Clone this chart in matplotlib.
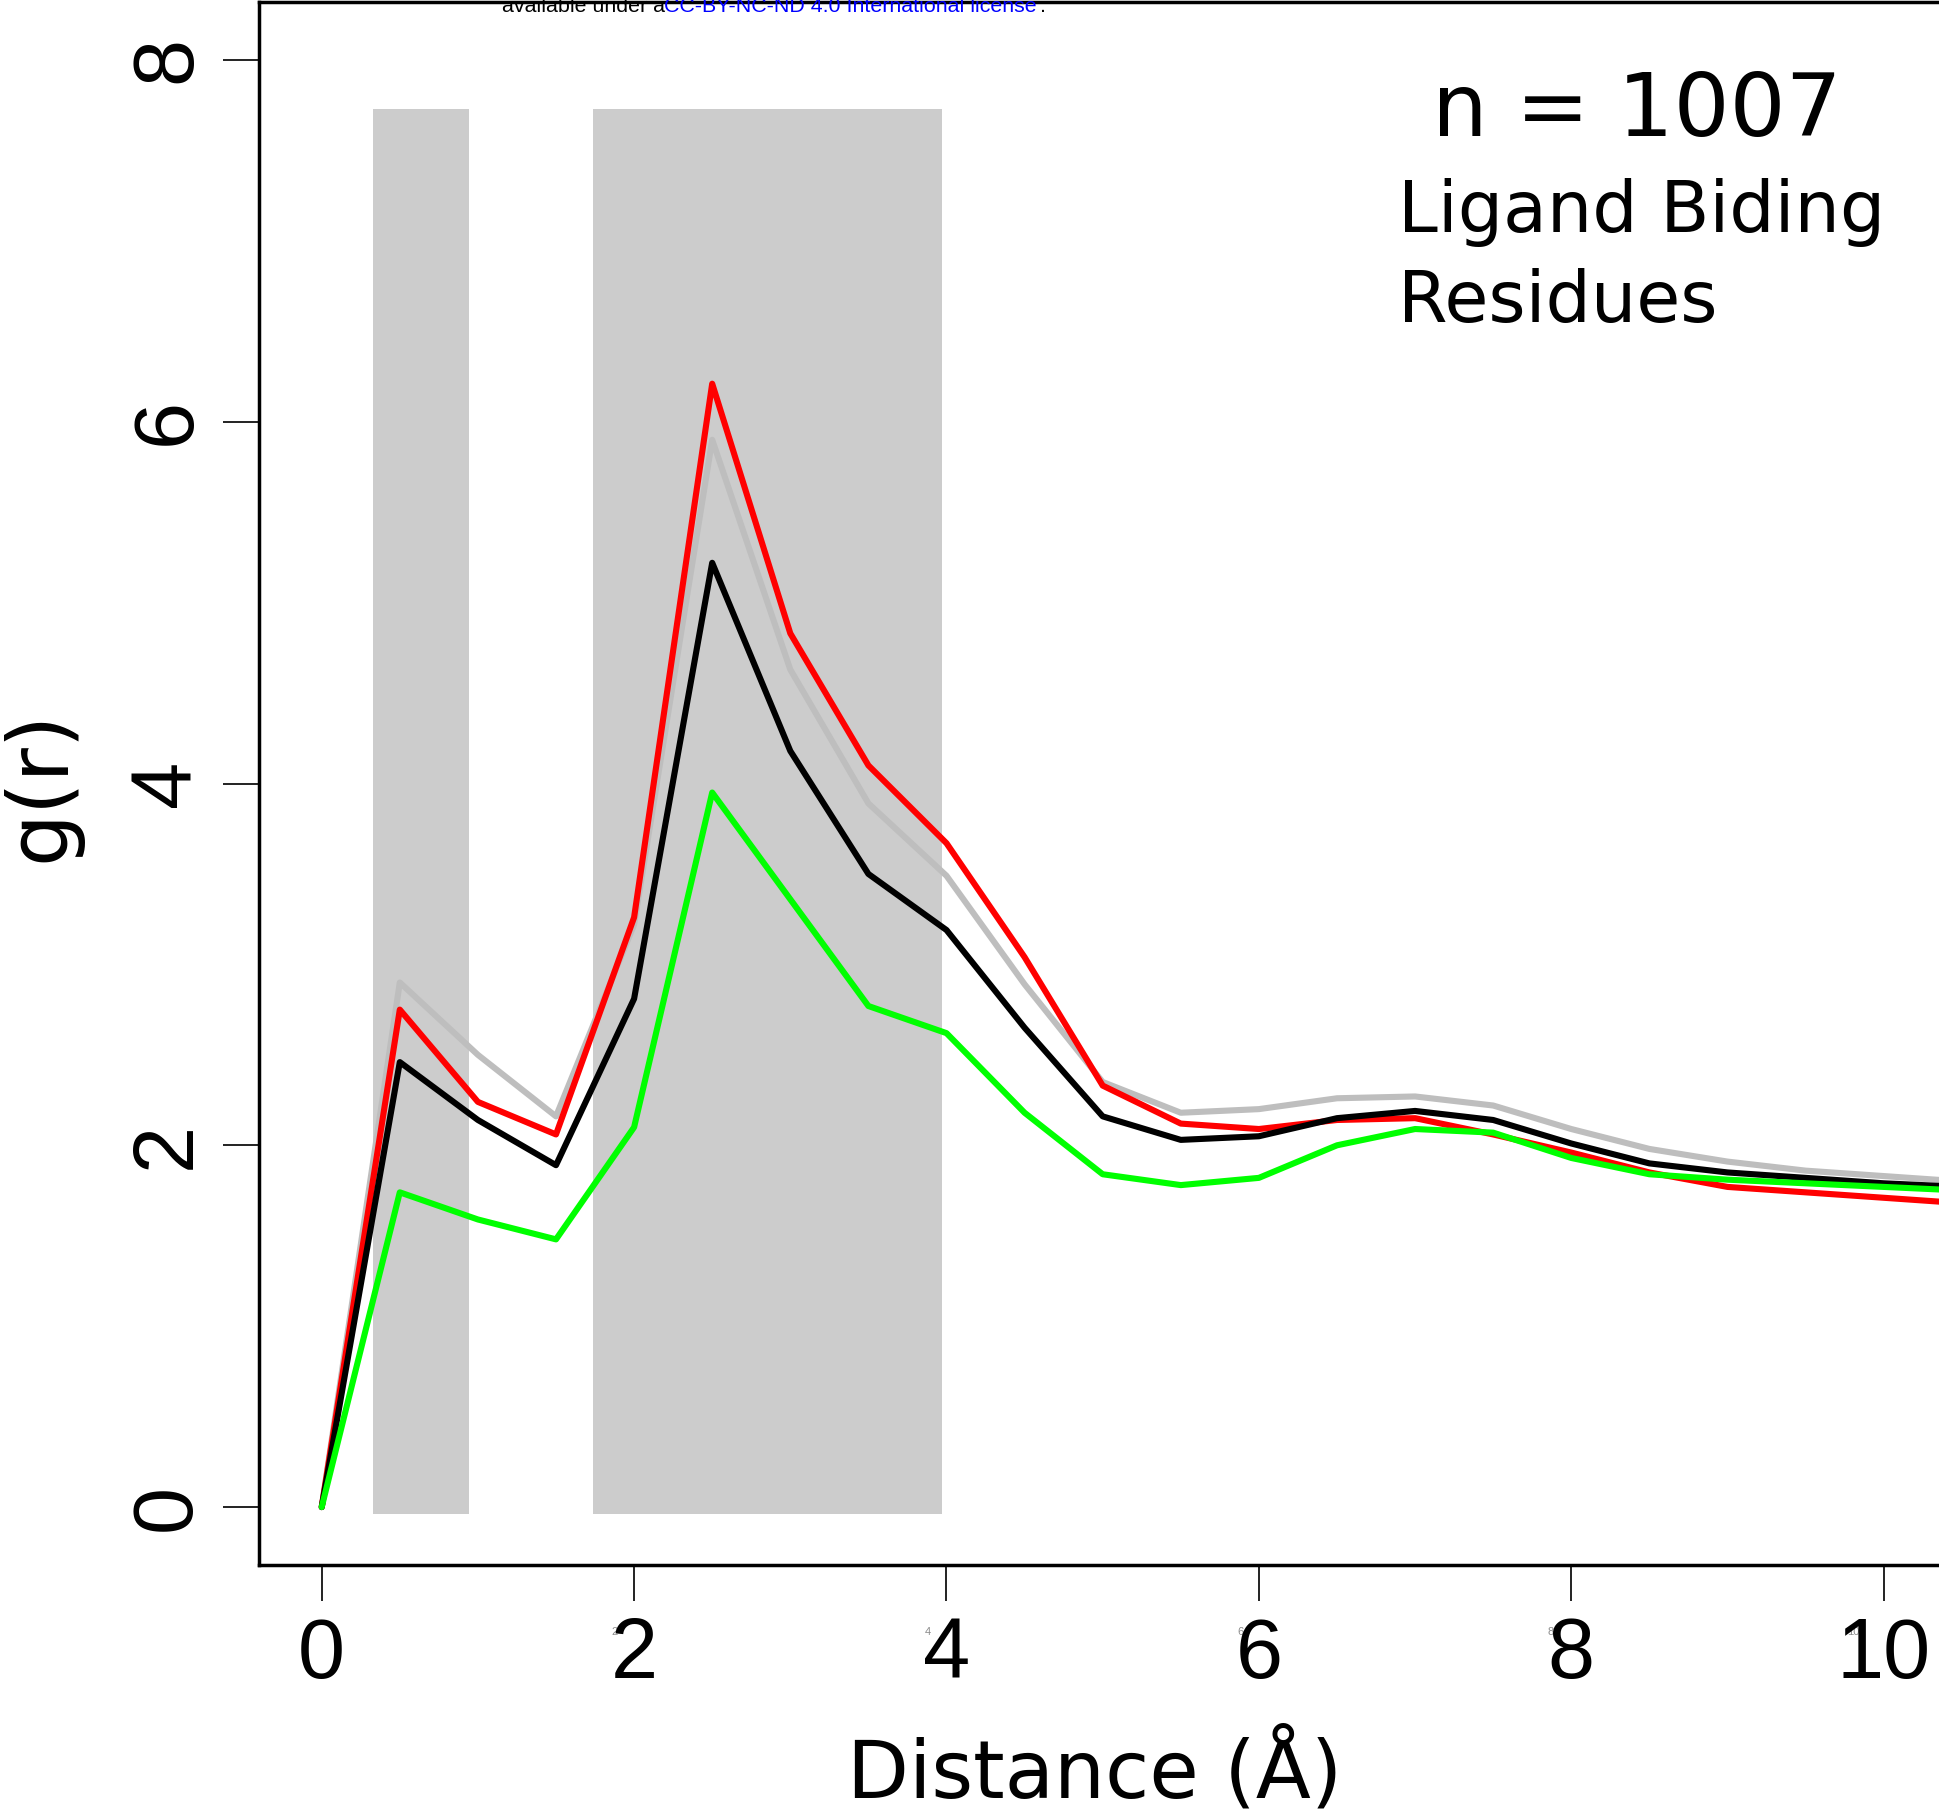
import matplotlib
matplotlib.use("Agg")
import matplotlib.pyplot as plt

# ---- data ----
distance = [0.0, 0.5, 1.0, 1.5, 2.0, 2.5, 3.0, 3.5, 4.0, 4.5, 5.0,
            5.5, 6.0, 6.5, 7.0, 7.5, 8.0, 8.5, 9.0, 9.5, 10.0, 10.5]
g_gray = [0, 2.90, 2.50, 2.16, 3.22, 5.90, 4.63, 3.89, 3.49, 2.89, 2.35,
          2.18, 2.20, 2.26, 2.27, 2.22, 2.09, 1.98, 1.91, 1.86, 1.83, 1.80]
g_red = [0, 2.75, 2.24, 2.06, 3.26, 6.21, 4.83, 4.10, 3.67, 3.04, 2.33,
         2.12, 2.09, 2.14, 2.15, 2.06, 1.96, 1.85, 1.77, 1.74, 1.71, 1.68]
g_black = [0, 2.46, 2.14, 1.89, 2.81, 5.22, 4.18, 3.50, 3.19, 2.65, 2.16,
           2.03, 2.05, 2.15, 2.19, 2.14, 2.01, 1.90, 1.85, 1.82, 1.79, 1.77]
g_green = [0, 1.74, 1.59, 1.48, 2.10, 3.95, 3.36, 2.77, 2.62, 2.18, 1.84,
           1.78, 1.82, 2.00, 2.09, 2.07, 1.93, 1.84, 1.81, 1.79, 1.77, 1.75]

shade_start = [0.33, 1.74]
shade_end = [0.94, 3.97]
shade_bottom = -0.04
shade_top = 7.73

x_ticks = [0, 2, 4, 6, 8, 10]
y_ticks = [0, 2, 4, 6, 8]
x_ticklabels = ["0", "2", "4", "6", "8", "10"]
y_ticklabels = ["0", "2", "4", "6", "8"]

W, H = 1940, 1812
fig = plt.figure(figsize=(W / 100, H / 100), dpi=100)
ax = fig.add_axes([258.6 / W, 247 / H, (1962.4 - 258.6) / W, 1563 / H])
ax.set_xlim(-0.404, 10.504)
ax.set_ylim(-0.32, 8.32)

# shaded regions
for x0, x1 in zip(shade_start, shade_end):
    ax.fill_between([x0, x1], shade_bottom, shade_top, color="#cccccc",
                    linewidth=0, zorder=1)

lw = 4.4
ax.plot(distance, g_gray, color="#bebebe", lw=lw, zorder=2,
        solid_joinstyle="round", solid_capstyle="round")
ax.plot(distance, g_red, color="#ff0000", lw=lw, zorder=3,
        solid_joinstyle="round", solid_capstyle="round")
ax.plot(distance, g_black, color="#000000", lw=lw, zorder=4,
        solid_joinstyle="round", solid_capstyle="round")
ax.plot(distance, g_green, color="#00ff00", lw=lw, zorder=5,
        solid_joinstyle="round", solid_capstyle="round")

for s in ax.spines.values():
    s.set_linewidth(2.5)
    s.set_color("black")

tick_font = dict(family="Liberation Sans", size=61)
ax.set_xticks(x_ticks)
ax.set_xticklabels(x_ticklabels, fontdict=tick_font)
ax.set_yticks(y_ticks)
ax.set_yticklabels(y_ticklabels, fontdict=tick_font, rotation=90,
                   rotation_mode="anchor", ha="center", va="baseline")
ax.tick_params(axis="both", direction="out", length=25.6, width=1.4,
               color="#222222")
ax.tick_params(axis="x", pad=11)
ax.tick_params(axis="y", pad=23.8)

# tiny ghost tick labels under the axis
small_labels = ["2", "4", "6", "8", "10"]
small_offsets = [-14, -13.5, -13, -15, -22]
for lab, xv, off in zip(small_labels, x_ticks[1:], small_offsets):
    ax.annotate(lab, xy=(xv, -0.32), xycoords="data",
                xytext=(off, -48), textcoords="offset points",
                ha="center", va="center", fontsize=8, color="#8a8a8a",
                family="Liberation Sans", annotation_clip=False, zorder=0)

# axis labels
fig.text(1094.5 / W, 1 - 1797 / H, "Distance (Å)", family="DejaVu Sans",
         fontsize=58, ha="center", va="baseline")
fig.text(64 / W, 1 - 786 / H, "g(r)", family="DejaVu Sans", fontsize=60,
         rotation=90, rotation_mode="anchor", ha="center", va="baseline")

# annotation
fig.text(1432 / W, 1 - 136 / H, "n = 1007", family="DejaVu Sans",
         fontsize=63.4, ha="left", va="baseline")
fig.text(1398 / W, 1 - 231.7 / H, "Ligand Biding", family="DejaVu Sans",
         fontsize=51.5, ha="left", va="baseline")
fig.text(1398 / W, 1 - 321.7 / H, "Residues", family="DejaVu Sans",
         fontsize=51.5, ha="left", va="baseline")

# license watermark fragment at the top edge
lic_kw = dict(family="Liberation Sans", fontsize=15.4)
fig.text(502 / W, 1 - 11.7 / H, "available under a", color="black",
         ha="left", va="baseline", **lic_kw)
fig.text(664 / W, 1 - 11.7 / H,
         "CC-BY-NC-ND 4.0 International license", color="#0000ff",
         ha="left", va="baseline", **lic_kw)
fig.text(1040 / W, 1 - 11.7 / H, ".", color="black",
         ha="left", va="baseline", **lic_kw)

fig.savefig("out.png", dpi=100)
